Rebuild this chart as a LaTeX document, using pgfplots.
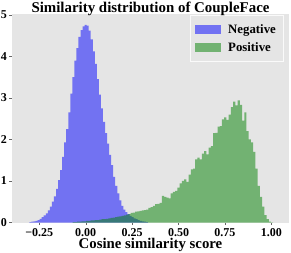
\documentclass[border=0pt]{standalone}
\usepackage{pgfplots}
\pgfplotsset{compat=1.18}
\usepackage{pgfplotstable}
\usepackage{fontspec}
\setmainfont{Liberation Serif}
\definecolor{bgc}{RGB}{229,229,229}
\definecolor{mplgreen}{RGB}{0,128,0}
\definecolor{mplblue}{RGB}{0,0,255}

\pgfplotstableread{
x y
-0.303 0.01
-0.292 0.02
-0.281 0.03
-0.270 0.04
-0.259 0.06
-0.248 0.09
-0.237 0.13
-0.226 0.17
-0.215 0.22
-0.204 0.29
-0.193 0.38
-0.182 0.50
-0.171 0.63
-0.160 0.81
-0.149 1.02
-0.138 1.26
-0.127 1.58
-0.116 1.93
-0.105 2.25
-0.094 2.65
-0.083 3.10
-0.072 3.50
-0.061 3.90
-0.050 4.20
-0.039 4.47
-0.028 4.63
-0.017 4.72
-0.006 4.76
0.005 4.74
0.016 4.62
0.027 4.41
0.038 4.12
0.049 3.82
0.060 3.45
0.071 3.08
0.082 2.75
0.093 2.42
0.104 2.15
0.115 1.90
0.126 1.63
0.137 1.38
0.148 1.10
0.159 0.88
0.170 0.70
0.181 0.53
0.192 0.40
0.203 0.31
0.214 0.25
0.225 0.20
0.236 0.16
0.247 0.13
0.258 0.10
0.269 0.08
0.280 0.06
0.291 0.04
0.302 0.03
0.313 0.02
0.324 0.01
0.335 0
}\negtable

\pgfplotstableread{
x y
-0.070 0.01
-0.058 0.01
-0.046 0.02
-0.034 0.02
-0.022 0.03
-0.010 0.03
0.002 0.04
0.014 0.04
0.026 0.05
0.038 0.05
0.050 0.06
0.062 0.06
0.074 0.07
0.086 0.08
0.098 0.08
0.110 0.09
0.122 0.10
0.134 0.11
0.146 0.12
0.158 0.13
0.170 0.14
0.182 0.15
0.194 0.16
0.206 0.17
0.218 0.19
0.230 0.20
0.242 0.23
0.254 0.24
0.266 0.26
0.278 0.27
0.290 0.28
0.302 0.29
0.314 0.30
0.326 0.31
0.338 0.35
0.350 0.37
0.362 0.40
0.374 0.44
0.386 0.45
0.398 0.47
0.410 0.64
0.422 0.62
0.434 0.60
0.446 0.58
0.458 0.70
0.470 0.74
0.482 0.76
0.494 0.84
0.506 0.94
0.518 1.00
0.530 1.04
0.542 0.98
0.554 1.15
0.566 1.28
0.578 1.30
0.590 1.52
0.602 1.56
0.614 1.52
0.626 1.66
0.638 1.72
0.650 1.64
0.662 1.80
0.674 1.84
0.686 2.15
0.698 2.16
0.710 2.31
0.722 2.32
0.734 2.48
0.746 2.53
0.758 2.47
0.770 2.60
0.782 2.78
0.794 2.91
0.806 2.82
0.818 2.94
0.830 2.83
0.842 2.45
0.854 2.65
0.866 2.20
0.878 2.00
0.890 1.93
0.902 1.70
0.914 1.30
0.926 0.88
0.938 0.62
0.950 0.38
0.962 0.18
0.974 0.08
0.986 0.02
0.998 0.005
1.010 0
}\postable

\begin{document}
\begin{tikzpicture}
\begin{axis}[
  scale only axis, width=277pt, height=208.5pt,
  xmin=-0.397, xmax=1.095, ymin=0, ymax=5.02,
  axis background/.style={fill=bgc},
  axis line style={draw=none},
  xtick={-0.25,0,0.25,0.5,0.75,1},
  xticklabels={−0.25,0.00,0.25,0.50,0.75,1.00},
  ytick={0,1,2,3,4,5},
  yticklabels={0,1,2,3,4,5},
  xtick pos=lower, ytick pos=left,
  tick align=outside, major tick length=2.5pt,
  tick style={black!60, line width=0.4pt},
  ticklabel style={font=\bfseries\fontsize{12}{12}\selectfont},
  xticklabel style={anchor=base, yshift=-11pt},
  yticklabel style={anchor=base east, yshift=-4pt, xshift=1pt},
  legend cell align=left,
  legend style={at={(0.9785,0.995)}, anchor=north east, fill=bgc,
    draw=white!80!bgc, font=\bfseries\fontsize{12.8}{13}\selectfont,
    row sep=3.5pt, inner xsep=5pt, inner ysep=7pt},
  legend image code/.code={\fill[#1] (0pt,-4.5pt) rectangle (26pt,4.5pt); \path (31pt,0pt);},
]
\addplot[const plot, draw=none, fill=mplblue, fill opacity=0.5] table {\negtable} \closedcycle;
\addlegendentry{Negative}
\addplot[const plot, draw=none, fill=mplgreen, fill opacity=0.5] table {\postable} \closedcycle;
\addlegendentry{Positive}
\end{axis}
\node[anchor=base, inner sep=0pt, font=\bfseries\fontsize{14.9}{15}\selectfont] at (138.5pt,210pt) {Similarity distribution of CoupleFace};
\node[anchor=base, inner sep=0pt, font=\bfseries\fontsize{14.8}{15}\selectfont] at (138.5pt,-25.8pt) {Cosine similarity score};
\pgfresetboundingbox
\path (-12pt,-29.5pt) rectangle (279pt,222.5pt);
\end{tikzpicture}
\end{document}
